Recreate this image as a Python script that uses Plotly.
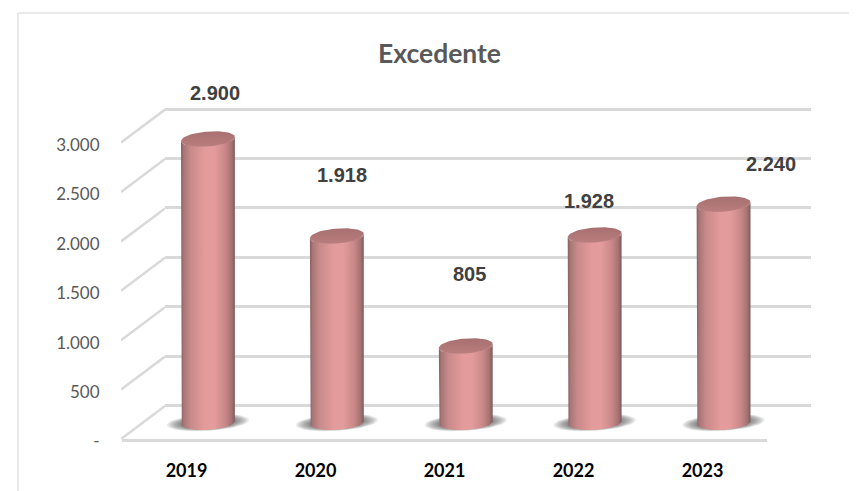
import numpy as np
import plotly.graph_objects as go

years = ["2019", "2020", "2021", "2022", "2023"]
excedente = [2900, 1918, 805, 1928, 2240]
value_labels = ["2.900", "1.918", "805", "1.928", "2.240"]
label_shift_x = [7, 5, 4, -6, 47]
label_shift_y = [46, 61, 72, 34, 40]
tick_vals = [0, 500, 1000, 1500, 2000, 2500, 3000]
tick_text = ["-", "500", "1.000", "1.500", "2.000", "2.500", "3.000"]

PAGE_MARGIN = 8  # the browser's default body margin
W, H = 857 - PAGE_MARGIN, 491 - PAGE_MARGIN
PX_PER_UNIT = 0.0988
DEPTH_UNITS = 33 / PX_PER_UNIT
R = 0.209            # cylinder radius, in category units
E = 7.5 / PX_PER_UNIT  # ellipse half-height, in value units
TILT_TOP = 2 / PX_PER_UNIT
TILT_BASE = 1.5 / PX_PER_UNIT
BASE_LIFT = 3 / PX_PER_UNIT
GRID = "#d9d9d9"
BODY = [[0, "#86605f"], [0.05, "#a87676"], [0.18, "#c98a8a"], [0.45, "#e49b9b"],
        [0.62, "#e49b9b"], [0.82, "#c98888"], [0.94, "#a57272"], [1, "#7d5a5a"]]
CAP = [[0, "#d69494"], [0.14, "#b87d7d"], [1, "#a56e6e"]]


def fx(px):
    return (px - PAGE_MARGIN) / W


def fy(px):
    return 1 - (px - PAGE_MARGIN) / H


def xdom(a, b):
    return [fx(a), fx(b)]


def ydom(bottom, top):
    return [fy(bottom), fy(top)]


fig = go.Figure()

fig.add_trace(go.Scatter(x=years, y=[0] * 5, mode="markers", marker=dict(opacity=0),
                         hoverinfo="skip", showlegend=False, xaxis="x", yaxis="y"))
fig.add_trace(go.Scatter(x=[0, 1], y=[0, 3000], mode="markers", marker=dict(opacity=0),
                         hoverinfo="skip", showlegend=False, xaxis="x2", yaxis="y2"))
for v in tick_vals:
    fig.add_trace(go.Scatter(x=[0, 1], y=[v, v + DEPTH_UNITS], mode="lines",
                             line=dict(color=GRID, width=2.5), cliponaxis=False,
                             hoverinfo="skip", showlegend=False, xaxis="x3", yaxis="y3"))
for i, v in enumerate(excedente):
    for k in range(9):
        rx, ry = 0.32 - 0.013 * k, 85 - 3 * k
        tilt = 25 * rx / 0.32
        a = np.linspace(0, 2 * np.pi, 61)
        fig.add_trace(go.Scatter(x=i + rx * np.cos(a), y=BASE_LIFT + ry * np.sin(a) + tilt * np.cos(a),
                                 mode="lines", line=dict(width=0), fill="toself",
                                 fillcolor="rgba(80,80,80,0.10)", hoverinfo="skip",
                                 showlegend=False, xaxis="x4", yaxis="y4"))
fig.add_trace(go.Bar(x=list(range(5)), y=excedente, width=2 * R * 0.85,
                     marker=dict(color="#d08c8c", line=dict(width=0)),
                     showlegend=False, xaxis="x4", yaxis="y4"))
t = np.linspace(0, np.pi, 41)
for i, v in enumerate(excedente):
    # body: down the left side, along the front of the base, up the right side
    bx = i - R * np.cos(t)
    by = BASE_LIFT - E * np.sin(t) - TILT_BASE * np.cos(t)
    xs = np.concatenate([[i - R], bx, [i + R], i + R * np.cos(t)])
    ys = np.concatenate([[v - TILT_TOP], by, [v + TILT_TOP],
                         v - E * np.sin(t) + TILT_TOP * np.cos(t)])
    fig.add_trace(go.Scatter(x=xs, y=ys, mode="lines", line=dict(width=0), fill="toself",
                             fillgradient=dict(type="horizontal", colorscale=BODY,
                                               start=i - R, stop=i + R),
                             hoverinfo="skip", showlegend=False, xaxis="x4", yaxis="y4"))
    a = np.linspace(0, 2 * np.pi, 81)
    fig.add_trace(go.Scatter(x=i + R * np.cos(a), y=v + E * np.sin(a) + TILT_TOP * np.cos(a),
                             mode="lines", line=dict(width=0), fill="toself",
                             fillgradient=dict(type="vertical", colorscale=CAP,
                                               start=v - E - TILT_TOP, stop=v + E + TILT_TOP),
                             hoverinfo="skip", showlegend=False, xaxis="x4", yaxis="y4"))

annotations = [dict(x=i, y=v, xref="x4", yref="y4", text=lab, showarrow=False,
                    xshift=sx, yshift=sy,
                    font=dict(family="Liberation Sans", size=20, color="#404040", weight="bold"))
               for i, (v, lab, sx, sy) in enumerate(zip(excedente, value_labels, label_shift_x, label_shift_y))]
annotations.append(dict(x=fx(440), y=fy(53), xref="paper", yref="paper", text="Excedente",
                        showarrow=False, xanchor="center", yanchor="middle",
                        font=dict(family="Lato", size=26.5, color="#595959", weight="bold")))

hidden = dict(visible=False)
fig.update_layout(
    width=W, height=H, margin=dict(l=0, r=0, t=0, b=0, autoexpand=False),
    paper_bgcolor="white", plot_bgcolor="rgba(0,0,0,0)", showlegend=False,
    annotations=annotations,
    xaxis=dict(domain=xdom(122, 767), type="category", categoryorder="array", categoryarray=years,
               range=[-0.5, 4.5], showgrid=False, showline=True, linecolor=GRID, linewidth=2.5,
               ticks="outside", ticklen=14, tickcolor="rgba(0,0,0,0)",
               tickfont=dict(family="Lato", size=18, color="#000000", weight="bold"),
               anchor="y"),
    yaxis=dict(domain=ydom(438.5, 438.5 - 3000 * PX_PER_UNIT), range=[0, 3000], showgrid=False,
               zeroline=False, showline=False, tickvals=tick_vals, ticktext=tick_text,
               ticks="outside", ticklen=18, tickcolor="rgba(0,0,0,0)", ticklabelshift=3,
               tickfont=dict(family="Lato", size=17, color="#595959"), anchor="x"),
    xaxis2=dict(domain=xdom(165, 811), range=[0, 1], showgrid=False, zeroline=False,
                showticklabels=False, ticks="", anchor="y2"),
    yaxis2=dict(domain=ydom(405.5 + 100 * PX_PER_UNIT, 405.5 - 3100 * PX_PER_UNIT), range=[-100, 3100], showgrid=True,
                gridcolor=GRID, gridwidth=2.5, tickvals=tick_vals, zeroline=False,
                showticklabels=False, ticks="", anchor="x2"),
    xaxis3=dict(domain=xdom(121, 165), range=[0, 1], **hidden, anchor="y3"),
    yaxis3=dict(domain=ydom(439, 439 - 3600 * PX_PER_UNIT), range=[0, 3600], **hidden, anchor="x3"),
    xaxis4=dict(domain=xdom(143.5, 788), range=[-0.5, 4.5], **hidden, anchor="y4"),
    yaxis4=dict(domain=ydom(425.5 + 400 * PX_PER_UNIT, 425.5 - 3400 * PX_PER_UNIT), range=[-400, 3400],
                **hidden, anchor="x4"),
    shapes=[
        dict(type="line", xref="paper", yref="paper", x0=fx(18), x1=1, y0=fy(13), y1=fy(13),
             line=dict(color="#e3e3e3", width=1.5)),
        dict(type="line", xref="paper", yref="paper", x0=fx(18), x1=fx(18), y0=0, y1=fy(13),
             line=dict(color="#e3e3e3", width=1.5)),
    ],
)
fig.write_html("out.html")
